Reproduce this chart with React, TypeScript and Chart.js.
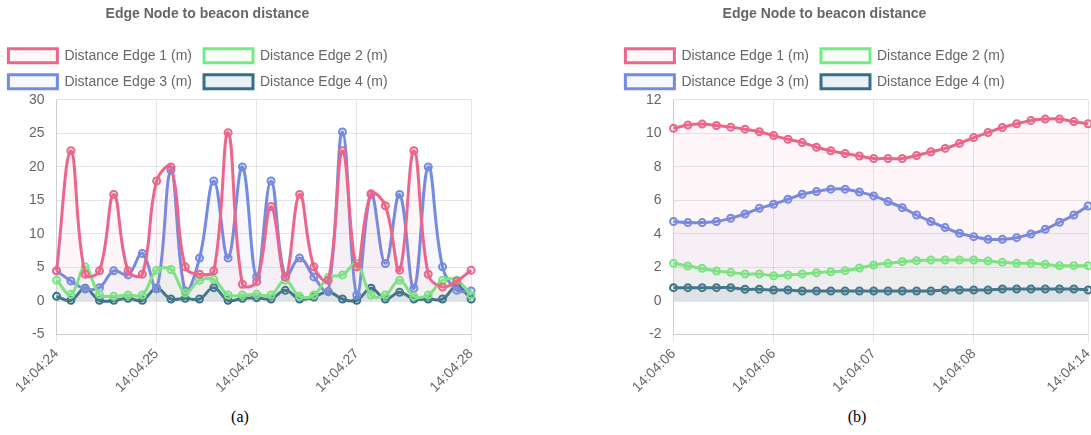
import React, { useEffect, useRef } from "react";
import { Chart, registerables } from "chart.js";

Chart.register(...registerables);

const TITLE = "Edge Node to beacon distance";
const SERIES_NAMES = ["Distance Edge 1 (m)", "Distance Edge 2 (m)", "Distance Edge 3 (m)", "Distance Edge 4 (m)"];
const LINE_COLORS = ["rgb(234,102,138)", "rgb(118,234,130)", "rgb(115,140,226)", "rgb(52,112,138)"];
const FILL_COLORS = ["rgba(234,102,138,0.06)", "rgba(118,234,130,0.06)", "rgba(115,140,226,0.06)", "rgba(52,112,138,0.1)"];

// Chart (a)
const labelsA = [
  "14:04:24", "", "", "", "", "", "",
  "14:04:25", "", "", "", "", "", "",
  "14:04:26", "", "", "", "", "", "",
  "14:04:27", "", "", "", "", "", "", "",
  "14:04:28",
];
const edge1A = [4.5, 22.4, 4.0, 4.5, 15.9, 4.5, 4.0, 17.9, 20.0, 5.1, 4.0, 4.5, 25.1, 2.5, 2.9, 14.1, 3.6, 15.9, 5.1, 3.1, 22.4, 5.1, 16.0, 14.2, 4.6, 22.4, 4.0, 2.1, 3.0, 4.6];
const edge2A = [3.1, 1.0, 5.1, 1.0, 0.7, 0.9, 0.9, 4.6, 4.7, 1.2, 3.1, 3.2, 0.9, 0.9, 1.0, 0.9, 3.1, 0.7, 0.9, 3.5, 3.9, 5.6, 0.9, 0.9, 3.1, 0.7, 0.9, 3.1, 3.1, 0.9];
const edge3A = [4.5, 3.0, 1.8, 2.0, 4.5, 3.9, 7.1, 1.8, 19.5, 1.5, 6.4, 17.9, 6.4, 20.0, 3.6, 17.9, 3.6, 6.4, 3.6, 1.4, 25.2, 0.9, 15.9, 5.6, 15.9, 1.9, 20.0, 5.1, 1.6, 1.5];
const edge4A = [0.7, 0.1, 1.9, 0.1, 0.1, 0.4, 0.1, 1.9, 0.3, 0.4, 0.3, 2.0, 0.1, 0.4, 0.5, 0.3, 1.6, 0.3, 0.6, 1.4, 0.3, 0.1, 1.9, 0.3, 1.3, 0.3, 0.3, 0.3, 2.2, 0.3];
const yTicksA = { min: -5, max: 30, step: 5 };

// Chart (b)
const labelsB = [
  "14:04:06", "", "", "", "", "", "",
  "14:04:06", "", "", "", "", "", "",
  "14:04:07", "", "", "", "", "", "",
  "14:04:08", "", "", "", "", "", "", "",
  "14:04:14",
];
const edge1B = [10.3, 10.5, 10.55, 10.47, 10.37, 10.25, 10.1, 9.87, 9.65, 9.45, 9.17, 8.96, 8.8, 8.65, 8.5, 8.5, 8.5, 8.68, 8.9, 9.1, 9.4, 9.75, 10.05, 10.35, 10.57, 10.77, 10.85, 10.85, 10.7, 10.57];
const edge2B = [2.25, 2.09, 1.95, 1.79, 1.71, 1.61, 1.61, 1.51, 1.55, 1.61, 1.69, 1.75, 1.81, 1.97, 2.15, 2.25, 2.35, 2.41, 2.45, 2.45, 2.45, 2.45, 2.39, 2.31, 2.25, 2.25, 2.19, 2.11, 2.11, 2.11];
const edge3B = [4.74, 4.68, 4.68, 4.74, 4.94, 5.19, 5.53, 5.77, 6.07, 6.37, 6.53, 6.67, 6.67, 6.5, 6.27, 5.93, 5.57, 5.13, 4.74, 4.38, 4.04, 3.84, 3.68, 3.68, 3.78, 4.0, 4.28, 4.7, 5.13, 5.67];
const edge4B = [0.8, 0.8, 0.8, 0.8, 0.8, 0.7, 0.7, 0.66, 0.66, 0.6, 0.6, 0.6, 0.6, 0.6, 0.6, 0.6, 0.6, 0.6, 0.6, 0.66, 0.66, 0.66, 0.66, 0.72, 0.72, 0.72, 0.72, 0.72, 0.72, 0.66];
const yTicksB = { min: -2, max: 12, step: 2 };

const CAPTIONS = ["(a)", "(b)"];

const FONT = "'Liberation Sans', Arial, Helvetica, sans-serif";
const GRID = "rgba(0,0,0,0.1)";

const placePlugin = {
  id: "place",
  afterLayout(chart: any) {
    const t = chart.titleBlock;
    if (t) {
      t.left = 11;
      t.right = 426;
      t.width = 415;
    }
    const l = chart.legend;
    if (l) {
      l.left = -9;
      l.right = 427;
      l.width = 436;
      l.top -= 1;
      l.bottom -= 1;
    }
  },
};

function LineChart(props: { labels: string[]; series: number[][]; y: { min: number; max: number; step: number } }) {
  const ref = useRef<HTMLCanvasElement>(null);
  useEffect(() => {
    const { labels, series, y } = props;
    const chart = new Chart(ref.current as HTMLCanvasElement, {
      type: "line",
      data: {
        labels,
        datasets: series.map((s, i) => ({
          label: SERIES_NAMES[i],
          data: s,
          borderColor: LINE_COLORS[i],
          backgroundColor: FILL_COLORS[i],
          borderWidth: 3,
          fill: "origin",
          tension: 0.4,
          pointRadius: 3.5,
          pointBorderWidth: 2,
          pointBorderColor: LINE_COLORS[i],
          pointBackgroundColor: FILL_COLORS[i],
        })),
      },
      options: {
        animation: false,
        responsive: false,
        layout: { padding: { left: 28, right: 0, top: 3, bottom: 1 } },
        plugins: {
          title: {
            display: true,
            text: TITLE,
            color: "#666",
            font: { family: FONT, size: 14, weight: "bold" },
            padding: { top: 3, bottom: 15 },
          },
          legend: {
            position: "top",
            labels: {
              color: "#666",
              font: { family: FONT, size: 14 },
              boxWidth: 49,
              boxHeight: 14,
              padding: 12,
            },
          },
          tooltip: { enabled: false },
        },
        scales: {
          x: {
            type: "category",
            grid: {
              color: (ctx: any) => (labels[ctx.index] ? GRID : "rgba(0,0,0,0)"),
              tickLength: 8,
            },
            border: { color: GRID },
            ticks: {
              autoSkip: false,
              minRotation: 45,
              maxRotation: 45,
              color: "#666",
              font: { family: FONT, size: 14 },
              padding: 3,
            },
          },
          y: {
            min: y.min,
            max: y.max,
            grid: { drawTicks: false, color: GRID },
            border: { color: GRID },
            ticks: {
              stepSize: y.step,
              color: "#666",
              font: { family: FONT, size: 14 },
              padding: 12,
            },
          },
        },
      } as any,
      plugins: [placePlugin],
    });
    return () => chart.destroy();
  }, []);
  return <canvas ref={ref} width={497} height={400} style={{ display: "block" }} />;
}

export default function App() {
  return (
    <div style={{ position: "absolute", left: 0, top: 0, width: 1091, height: 435, overflow: "hidden", background: "#fff" }}>
      <div style={{ position: "absolute", left: -11, top: 0 }}>
        <LineChart labels={labelsA} series={[edge1A, edge2A, edge3A, edge4A]} y={yTicksA} />
      </div>
      <div style={{ position: "absolute", left: 606, top: 0 }}>
        <LineChart labels={labelsB} series={[edge1B, edge2B, edge3B, edge4B]} y={yTicksB} />
      </div>
      <div style={{ position: "absolute", left: 200, top: 408, width: 80, textAlign: "center", fontFamily: "'Liberation Serif', 'Times New Roman', serif", fontSize: 16, color: "#000" }}>{CAPTIONS[0]}</div>
      <div style={{ position: "absolute", left: 817, top: 408, width: 80, textAlign: "center", fontFamily: "'Liberation Serif', 'Times New Roman', serif", fontSize: 16, color: "#000" }}>{CAPTIONS[1]}</div>
    </div>
  );
}
